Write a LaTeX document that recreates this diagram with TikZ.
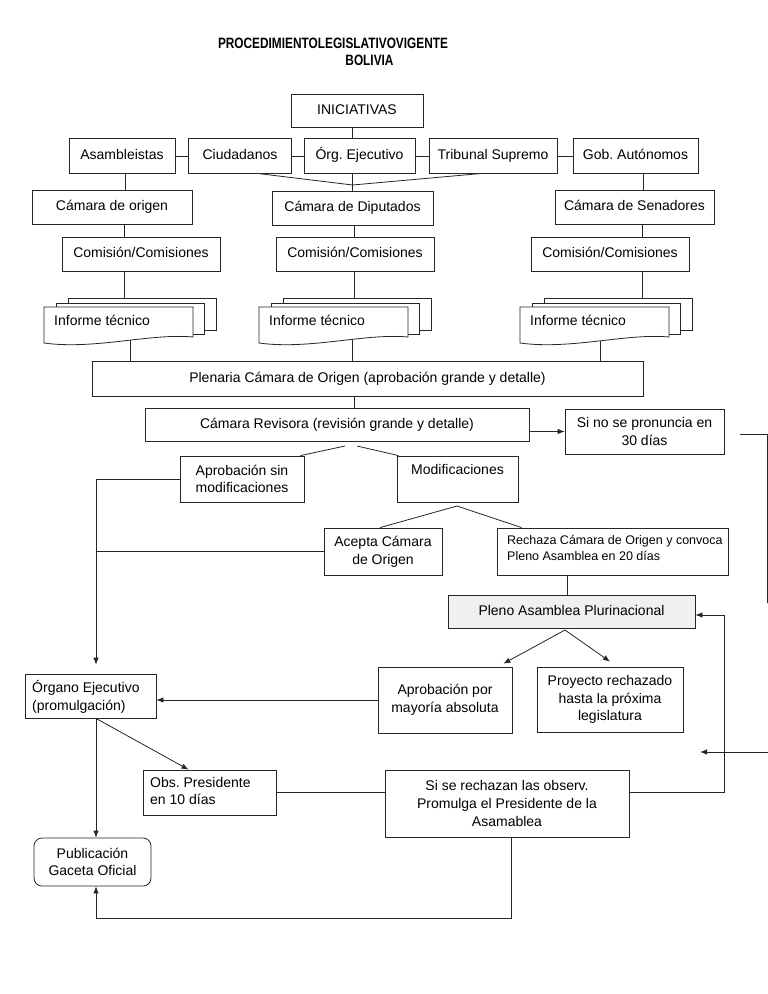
\documentclass[tikz,border=0pt]{standalone}
\usepackage{fontspec}
\setmainfont{Liberation Sans}
\newfontfamily\titlefont{Liberation Sans}[FakeStretch=0.79]
\usetikzlibrary{arrows.meta}
\pgfdeclarelayer{background}
\pgfsetlayers{background,main}
\newcommand\nodefnt{\fontsize{14}{17.7}\selectfont}
\newcommand\smallfnt{\fontsize{12.5}{16}\selectfont}
\tikzset{
  bx/.style={draw=black!85, line width=0.8pt, fill=white, inner sep=3pt, align=center, font=\nodefnt},
  one/.style={text height=10.5pt, text depth=3pt},
  tx/.style={inner sep=0pt, align=left, font=\nodefnt},
  ln/.style={draw=black!85, line width=0.8pt},
  arr/.style={ln, -{Latex[length=7pt,width=5.5pt]}},
  sheet/.style={draw=black!85, line width=0.8pt, fill=white},
}
\newcommand{\infdoc}[3]{%
  \begin{scope}[shift={(#2,#3)}]
    \draw[sheet] (24,-9) rectangle (172,23);
    \draw[sheet] (12,-4) rectangle (160,27);
    \draw[sheet] (0,0) -- (149,0) -- (149,30) .. controls (106,26) and (51,43) .. (0,36) -- cycle;
    \node[tx, anchor=west] (#1) at (10,13) {Informe técnico};
  \end{scope}}
\begin{document}
\frenchspacing
\begin{tikzpicture}[x=1pt,y=-1pt]
\begin{pgfonlayer}{background}
\fill[white] (0,0) rectangle (768,994);
\end{pgfonlayer}
\useasboundingbox (0,0) rectangle (768,994);

% title
\node[inner sep=0pt, font=\titlefont\bfseries\fontsize{15}{18}\selectfont] (title1) at (333,43) {PROCEDIMIENTOLEGISLATIVOVIGENTE};
\node[inner sep=0pt, font=\titlefont\bfseries\fontsize{15}{18}\selectfont] (title2) at (369.5,60) {BOLIVIA};

% boxes
\node[bx, one, minimum width=132pt, minimum height=33pt] (ini) at (357,110.5) {INICIATIVAS};
\node[bx, one, minimum width=106pt, minimum height=35pt] (asam) at (122,156) {Asambleistas};
\node[bx, one, minimum width=103pt, minimum height=35pt] (ciud) at (240,156) {Ciudadanos};
\node[bx, one, minimum width=111pt, minimum height=35pt] (orge) at (359.5,156) {Órg. Ejecutivo};
\node[bx, one, minimum width=128pt, minimum height=35pt] (trib) at (493,156) {Tribunal Supremo};
\node[bx, one, minimum width=125pt, minimum height=35pt] (gob) at (635.5,156) {Gob. Autónomos};

\node[bx, one, minimum width=160pt, minimum height=34pt] (corig) at (112,207) {Cámara de origen};
\node[bx, one, minimum width=161pt, minimum height=34pt] (cdip) at (352.5,208) {Cámara de Diputados};
\node[bx, one, minimum width=159pt, minimum height=34pt] (csen) at (634.5,207) {Cámara de Senadores};

\node[bx, one, minimum width=158pt, minimum height=34pt] (com1) at (141,254) {Comisión/Comisiones};
\node[bx, one, minimum width=158pt, minimum height=34pt] (com2) at (355,254) {Comisión/Comisiones};
\node[bx, one, minimum width=158pt, minimum height=34pt] (com3) at (610,254) {Comisión/Comisiones};

\infdoc{inf1}{44}{307}
\infdoc{inf2}{259}{307}
\infdoc{inf3}{520}{307}

\node[bx, one, minimum width=551pt, minimum height=35pt] (plen) at (367.5,378.5) {Plenaria Cámara de Origen (aprobación grande y detalle)};
\node[bx, one, minimum width=384pt, minimum height=33pt] (crev) at (337,424.5) {Cámara Revisora (revisión grande y detalle)};
\node[bx, minimum width=159pt, minimum height=45pt] (sino) at (644.5,431.5) {Si no se pronuncia en\\30 días};

\node[bx, minimum width=124pt, minimum height=46pt] (apsin) at (242,479) {Aprobación sin\\modificaciones};
\node[bx, minimum width=121pt, minimum height=46pt] (modif) at (457.5,479) {};
\node[tx] (modift) at (457.5,469) {Modificaciones};

\node[bx, minimum width=118pt, minimum height=47pt] (acep) at (383,551.5) {Acepta Cámara\\de Origen};
\node[bx, minimum width=231pt, minimum height=47pt] (rech) at (612.5,551.5) {};
\node[tx, anchor=west, font=\smallfnt] (recht) at (507,548) {Rechaza Cámara de Origen y convoca\\Pleno Asamblea en 20 días};

\node[bx, one, fill=black!6, minimum width=247pt, minimum height=33pt] (pleno) at (571.5,611.5) {Pleno Asamblea Plurinacional};

\node[bx, minimum width=134pt, minimum height=66pt] (apmay) at (445,700) {Aprobación por\\mayoría absoluta};
\node[bx, minimum width=146pt, minimum height=65pt] (proy) at (610,699.5) {Proyecto rechazado\\hasta la próxima\\legislatura};

\node[bx, minimum width=131pt, minimum height=44pt] (orgej) at (90.5,696) {};
\node[tx, anchor=west] (orgejt) at (32,697) {Órgano Ejecutivo\\(promulgación)};
\node[bx, minimum width=133pt, minimum height=45pt] (obs) at (209.5,792.5) {};
\node[tx, anchor=west] (obst) at (150,791) {Obs. Presidente\\en 10 días};
\node[bx, minimum width=244pt, minimum height=67pt] (sirech) at (507,803.5) {Si se rechazan las observ.\\Promulga el Presidente de la\\Asamablea};
\node[bx, rounded corners=8pt, minimum width=117pt, minimum height=48pt] (pub) at (92.5,862) {Publicación\\Gaceta Oficial};

% coordinates
\coordinate (i1) at (352,0);
\coordinate (vA) at (258,173.5);
\coordinate (vB) at (481,173.5);
\coordinate (vC) at (352.5,185);
\coordinate (a1) at (125,0);
\coordinate (g1) at (643,0);
\coordinate (c1) at (124,0);
\coordinate (c2) at (354,0);
\coordinate (c3) at (642,0);
\coordinate (inf1top) at (124,298);
\coordinate (inf2top) at (354,298);
\coordinate (inf3top) at (642,298);
\coordinate (inf1bot) at (130,335);
\coordinate (inf2bot) at (352,335);
\coordinate (inf3bot) at (600,335);
\coordinate (r1) at (740,434);
\coordinate (r2) at (767,434);
\coordinate (r3) at (767,603);
\coordinate (s1) at (345,446);
\coordinate (s2) at (357,446);
\coordinate (vx) at (96,0);
\coordinate (m0) at (457,506);
\coordinate (p0) at (567,0);
\coordinate (q0) at (565,630);
\coordinate (k) at (724,0);
\coordinate (k2) at (724,615);
\coordinate (f1) at (768,752);
\coordinate (f2) at (700,752);
\coordinate (b0) at (511,918);

\begin{pgfonlayer}{background}
\draw[ln] (ini.south -| i1) -- (orge.north -| i1);
\draw[ln] (asam.east) -- (ciud.west);
\draw[ln] (ciud.east) -- (orge.west);
\draw[ln] (orge.east) -- (trib.west);
\draw[ln] (trib.east) -- (gob.west);
\draw[ln] (vA) -- (vC) -- (vB);
\draw[ln] (orge.south -| cdip.north) -- (cdip.north);
\draw[ln] (asam.south -| a1) -- (corig.north -| a1);
\draw[ln] (gob.south -| g1) -- (csen.north -| g1);
\draw[ln] (corig.south -| c1) -- (com1.north -| c1);
\draw[ln] (cdip.south -| c2) -- (com2.north -| c2);
\draw[ln] (csen.south -| c3) -- (com3.north -| c3);
\draw[ln] (com1.south -| c1) -- (inf1top);
\draw[ln] (com2.south -| c2) -- (inf2top);
\draw[ln] (com3.south -| c3) -- (inf3top);
\draw[ln] (inf1bot) -- (plen.north -| inf1bot);
\draw[ln] (inf2bot) -- (plen.north -| inf2bot);
\draw[ln] (inf3bot) -- (plen.north -| inf3bot);
\draw[ln] (plen.south -| c2) -- (crev.north -| c2);
\draw[arr] (crev.east |- sino.west) -- (sino.west);
\draw[ln] (r1) -- (r2) -- (r3);
\draw[ln] (s1) -- ([xshift=-4pt]apsin.north east);
\draw[ln] (s2) -- ([xshift=2pt]modif.north west);
\draw[arr] (apsin.west) -- (apsin.west -| vx) -- ([yshift=9pt]orgej.north -| vx);
\draw[ln] (acep.west) -- (acep.west -| vx);
\draw[ln] (m0) -- ([xshift=-3pt]acep.north);
\draw[ln] (m0) -- ([xshift=25pt]rech.north west);
\draw[ln] (rech.south -| p0) -- (pleno.north -| p0);
\draw[arr] (q0) -- ([xshift=-9pt,yshift=3pt]apmay.north east);
\draw[arr] (q0) -- ([yshift=5pt]proy.north);
\draw[arr] (apmay.west) -- (apmay.west -| orgej.east);
\draw[arr] (orgej.south -| vx) -- (pub.north -| vx);
\draw[arr] (orgej.south -| vx) -- ([xshift=-21pt]obs.north);
\draw[ln] (obs.east) -- (obs.east -| sirech.west);
\draw[arr] (obs.east -| sirech.east) -- (obs.east -| k) -- (k2) -- (k2 -| pleno.east);
\draw[arr] (f1) -- (f2);
\draw[arr] (sirech.south -| b0) -- (b0) -- (b0 -| vx) -- (pub.south -| vx);
\end{pgfonlayer}
\end{tikzpicture}
\end{document}
